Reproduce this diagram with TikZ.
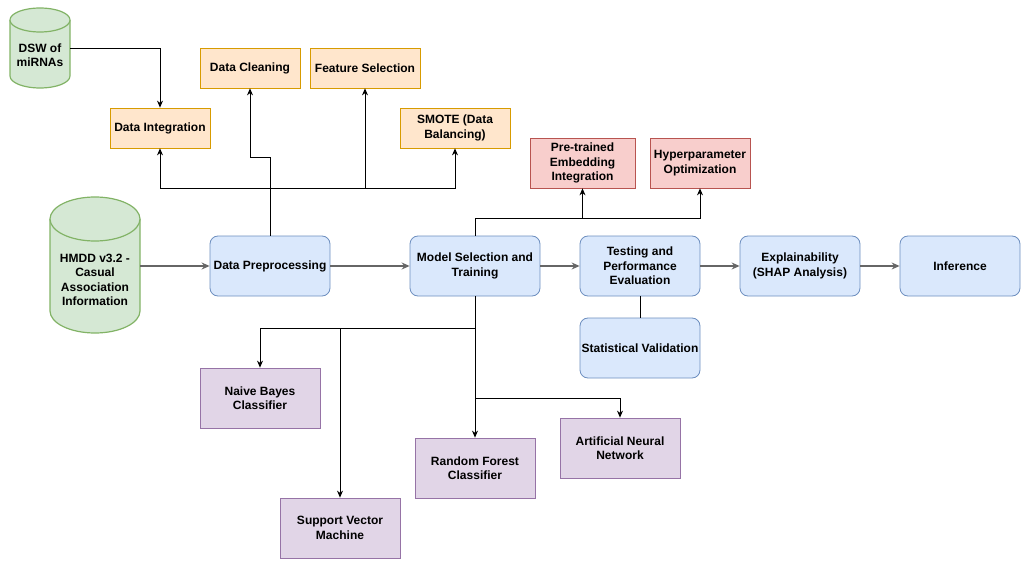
\documentclass[tikz,border=0pt]{standalone}
\usepackage{fontspec}
\setmainfont{Liberation Sans}
\usepackage{xcolor}
\usetikzlibrary{arrows.meta, positioning}
\definecolor{grnfill}{HTML}{D5E8D4}
\definecolor{grndraw}{HTML}{82B366}
\definecolor{orgfill}{HTML}{FFE6CC}
\definecolor{orgdraw}{HTML}{D79B00}
\definecolor{blufill}{HTML}{DAE8FC}
\definecolor{bludraw}{HTML}{6C8EBF}
\definecolor{redfill}{HTML}{F8CECC}
\definecolor{reddraw}{HTML}{B85450}
\definecolor{purfill}{HTML}{E1D5E7}
\definecolor{purdraw}{HTML}{9673A6}
\definecolor{flowgray}{HTML}{666666}

\begin{document}
\begin{tikzpicture}[x=1pt, y=-1pt, >={Stealth[length=7pt,width=6pt]},
    font=\fontsize{12}{14.5}\selectfont\bfseries, line width=0.8pt]
  \tikzstyle{box} = [draw, text centered, align=center, inner sep=0pt]
  \tikzstyle{prepbox} = [box, fill=orgfill, draw=orgdraw, minimum height=40]
  \tikzstyle{stagebox} = [box, rounded corners=8pt, fill=blufill, draw=bludraw,
    minimum width=120, minimum height=60]
  \tikzstyle{addbox} = [box, fill=redfill, draw=reddraw, minimum height=50]
  \tikzstyle{clfbox} = [box, fill=purfill, draw=purdraw, minimum width=120,
    minimum height=60]
  \tikzstyle{cyl} = [fill=grnfill, draw=grndraw, line width=1.2pt]
  \tikzstyle{flowarrow} = [-{Stealth[length=8pt,width=7pt]}, draw=flowgray,
    line width=1.2pt]
  \useasboundingbox (0,0) rectangle (1029,567);
  % databases
  \draw[cyl] (10,20) -- (10,76) arc[start angle=180, end angle=0, x radius=30,
    y radius=12] -- (70,20) arc[start angle=0, end angle=-180, x radius=30,
    y radius=12] -- cycle;
  \draw[cyl] (10,20) arc[start angle=180, end angle=0, x radius=30, y radius=12];
  \draw[cyl] (50,219) -- (50,311) arc[start angle=180, end angle=0, x radius=45,
    y radius=22] -- (140,219) arc[start angle=0, end angle=-180, x radius=45,
    y radius=22] -- cycle;
  \draw[cyl] (50,219) arc[start angle=180, end angle=0, x radius=45, y radius=22];
  \node [align=center, minimum width=60] at (40,55) (dsw) {DSW of\\miRNAs};
  \node [align=center, minimum width=90] at (95,280) (hmdd)
    {HMDD v3.2 -\\Casual\\Association\\Information};
  % preprocessing steps
  \node [prepbox, minimum width=100] at (160,128) (integ) {Data Integration};
  \node [prepbox, minimum width=100] at (250,68) (clean) {Data Cleaning};
  \node [prepbox, minimum width=110] at (365,68) (feat) {Feature Selection};
  \node [prepbox, minimum width=110] at (455,128) (smote)
    {SMOTE (Data\\Balancing)};
  % main stages
  \node [stagebox] at (270,266) (prep) {Data Preprocessing};
  \node [stagebox, minimum width=130] at (475,266) (model)
    {Model Selection and\\Training};
  \node [stagebox] at (640,266) (test) {Testing and\\Performance\\Evaluation};
  \node [stagebox] at (800,266) (expl) {Explainability\\(SHAP Analysis)};
  \node [stagebox] at (960,266) (infer) {Inference};
  \node [stagebox] at (640,348) (stat) {Statistical Validation};
  % model add-ons
  \node [addbox, minimum width=105] at (582.5,163) (pretr)
    {Pre-trained\\Embedding\\Integration};
  \node [addbox, minimum width=100] at (700,163) (hyper)
    {Hyperparameter\\Optimization};
  % classifiers
  \node [clfbox] at (260,398) (nb) {Naive Bayes\\Classifier};
  \node [clfbox] at (340,528) (svm) {Support Vector\\Machine};
  \node [clfbox] at (475,468) (rf) {Random Forest\\Classifier};
  \node [clfbox] at (620,448) (ann) {Artificial Neural\\Network};
  % connectors
  \coordinate (pbus) at (270,188);
  \coordinate (mbus) at (475,218);
  \coordinate (cbus) at (475,328);
  \coordinate (abus) at (475,398);
  \draw[->] ([yshift=7pt]dsw.east) -| (integ.north);
  \draw[flowarrow] ([yshift=14pt]hmdd.east) -- (prep.west);
  \draw[flowarrow] (prep) -- (model);
  \draw[flowarrow] (model) -- (test);
  \draw[flowarrow] (test) -- (expl);
  \draw[flowarrow] (expl) -- (infer);
  \draw (test) -- (stat);
  \draw[->] (prep.north) -- (pbus) -| (integ.south);
  \draw[->] (pbus) -| (feat.south);
  \draw[->] (pbus) -| (smote.south);
  \draw[->] (prep.north) -- ++(0,-78) -| (clean.south);
  \draw (model.north) -- (mbus);
  \draw[->] (mbus) -| (pretr.south);
  \draw[->] (mbus) -| (hyper.south);
  \draw (model.south) -- (cbus);
  \draw[->] (cbus) -| (nb.north);
  \draw[->] (cbus -| svm.north) -- (svm.north);
  \draw[->] (cbus) -- (rf.north);
  \draw[->] (abus) -| (ann.north);
\end{tikzpicture}
\end{document}
